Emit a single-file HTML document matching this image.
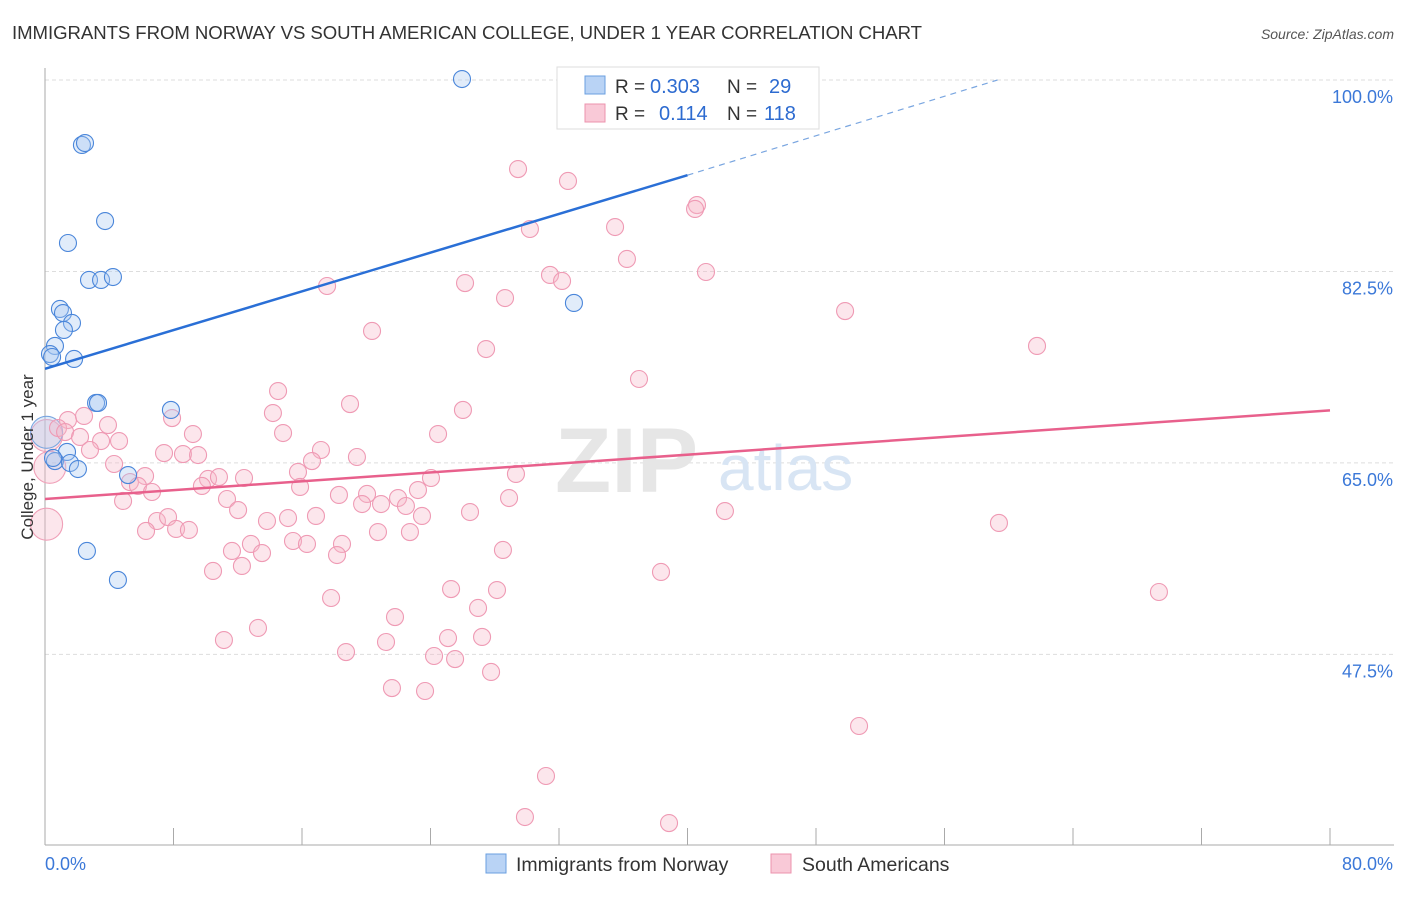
<!DOCTYPE html>
<html><head><meta charset="utf-8"><style>
body{margin:0;background:#fff;font-family:"Liberation Sans",sans-serif}
svg text{font-family:"Liberation Sans",sans-serif}
</style></head><body>
<svg width="1406" height="892" xmlns="http://www.w3.org/2000/svg" id="chart">
<text x="12" y="39" font-size="18.6" fill="#333" textLength="910">IMMIGRANTS FROM NORWAY VS SOUTH AMERICAN COLLEGE, UNDER 1 YEAR CORRELATION CHART</text>
<text x="1394" y="39" font-size="14" fill="#555" text-anchor="end" font-style="italic">Source: ZipAtlas.com</text>
<g id="grid"></g>
<text x="555" y="492" font-size="92" fill="#e6e6e6" font-weight="bold" font-family="Liberation Serif">ZIP</text>
<text x="718" y="490" font-size="64" fill="#d8e5f4">atlas</text>
<g id="marks"></g>
<text x="33" y="457" font-size="17" fill="#333" text-anchor="middle" transform="rotate(-90 33 457)">College, Under 1 year</text>
<g>
<rect x="557" y="67" width="262" height="62" fill="#fff" stroke="#ddd"/>
<rect x="585" y="76" width="20" height="18" fill="#b9d3f5" stroke="#6a9fe0"/>
<rect x="585" y="104" width="20" height="18" fill="#f9c9d7" stroke="#ec93ae"/>
<text x="615" y="93" font-size="19" fill="#333">R =</text>
<text x="650" y="93" font-size="20" fill="#2d6bd0">0.303</text>
<text x="727" y="93" font-size="19" fill="#333">N =</text>
<text x="769" y="93" font-size="20" fill="#2d6bd0">29</text>
<text x="615" y="120" font-size="19" fill="#333">R =</text>
<text x="659" y="120" font-size="20" fill="#2d6bd0">0.114</text>
<text x="727" y="120" font-size="19" fill="#333">N =</text>
<text x="764" y="120" font-size="20" fill="#2d6bd0">118</text>
</g>
<g>
<rect x="486" y="854" width="20" height="19" fill="#b9d3f5" stroke="#6a9fe0"/>
<text x="516" y="871" font-size="19.5" fill="#333">Immigrants from Norway</text>
<rect x="771" y="854" width="20" height="19" fill="#f9c9d7" stroke="#ec93ae"/>
<text x="802" y="871" font-size="19.5" fill="#333">South Americans</text>
</g>
</svg>
<script>
const yTicks=[100,82.5,65,47.5];
const xTickLabels=["0.0%","80.0%"];
const bluePx=[[462,79],[82,145],[85,143],[105,221],[68,243],[89,280],[101,280],[113,277],[574,303],[60,309],[63,313],[72,323],[64,330],[55,346],[50,354],[52,357],[74,359],[96,403],[98,403],[171,410],[67,452],[55,461],[70,463],[78,469],[128,475],[87,551],[118,580],[53,458]];
const pinkPx=[[518,169],[568,181],[697,205],[695,209],[530,229],[615,227],[627,259],[550,275],[562,281],[706,272],[465,283],[327,286],[505,298],[845,311],[372,331],[1037,346],[486,349],[639,379],[278,391],[350,404],[463,410],[273,413],[172,418],[68,420],[84,416],[108,425],[58,428],[65,432],[80,437],[101,441],[119,441],[283,433],[193,434],[438,434],[164,453],[183,454],[198,455],[90,450],[321,450],[357,457],[312,461],[114,464],[298,472],[244,478],[145,476],[208,479],[219,477],[431,478],[516,474],[130,482],[138,486],[202,486],[300,487],[418,490],[152,492],[123,501],[227,499],[339,495],[367,494],[362,504],[381,504],[398,498],[406,506],[509,498],[238,510],[316,516],[422,516],[470,512],[725,511],[157,521],[168,517],[267,521],[288,518],[999,523],[146,531],[176,529],[189,530],[378,532],[410,532],[293,541],[307,544],[251,544],[342,544],[232,551],[262,553],[337,555],[503,550],[242,566],[213,571],[661,572],[451,589],[497,590],[1159,592],[331,598],[478,608],[395,617],[258,628],[224,640],[386,642],[448,638],[482,637],[346,652],[434,656],[455,659],[491,672],[392,688],[425,691],[859,726],[546,776],[525,817],[669,823]];
const blueX=bluePx.map(p=>+((p[0]-45)/1285*80).toFixed(2));
const blueY=bluePx.map(p=>+(100-(p[1]-80)/10.94).toFixed(2));
const pinkX=pinkPx.map(p=>+((p[0]-45)/1285*80).toFixed(2));
const pinkY=pinkPx.map(p=>+(100-(p[1]-80)/10.94).toFixed(2));
const bigPinkX=[0.3,0.1,0.1];const bigPinkY=[64.6,59.4,67.5];
const bigBlueX=[0.1];const bigBlueY=[67.8];
const blueTrend=[[0,73.6],[40,91.3]];const blueTrendDash=[[40,91.3],[59.3,100]];
const pinkTrend=[[0,61.7],[80,69.8]];
const sx=v=>45+v/80*1285, sy=v=>80+(100-v)*10.94;
const NS="http://www.w3.org/2000/svg";
const grid=document.getElementById('grid'),marks=document.getElementById('marks');
function mk(tag,at,parent){const e=document.createElementNS(NS,tag);for(const k in at)e.setAttribute(k,at[k]);parent.appendChild(e);return e;}
yTicks.forEach(t=>{const l=mk('line',{x1:45,x2:1394,y1:sy(t),y2:sy(t),stroke:'#ddd','stroke-dasharray':'4,3'},grid);


const tx=mk('text',{x:1393,y:sy(t)+23,'font-size':18,fill:'#3b78d8','text-anchor':'end'},grid);tx.textContent=t.toFixed(1)+'%';

});
const ax=mk('line',{x1:45,x2:45,y1:68,y2:845,stroke:'#aaa'},grid);


const xa=mk('line',{x1:45,x2:1394,y1:845,y2:845,stroke:'#aaa'},grid);


for(let i=0;i<=10;i++){const t=mk('line',{x1:sx(i*8),x2:sx(i*8),y1:828,y2:845,stroke:'#aaa'},grid);

}
[[0,"start",45],[80,"end",1393]].forEach((d,i)=>{const t=mk('text',{x:d[2],y:870,'font-size':18,fill:'#3b78d8','text-anchor':d[1]},grid);t.textContent=xTickLabels[i];

});
function dots(xs,ys,r,fill,stroke,name){xs.forEach((x,i)=>{const c=mk('circle',{cx:sx(x),cy:sy(ys[i]),r:r,fill:fill,'fill-opacity':0.35,stroke:stroke,'stroke-width':1.1},marks);

});}
dots(bigPinkX,bigPinkY,16,'#f6b6c9','#f0a0b8','south-american-point');
dots(bigBlueX,bigBlueY,16,'#a8c8f0','#7aa6e0','norway-point');
dots(pinkX,pinkY,8.5,'#f6b6c9','#ef9ab4','south-american-point');
dots(blueX,blueY,8.5,'#a8c8f0','#4a86da','norway-point');
const bt=mk('line',{x1:sx(blueTrend[0][0]),y1:sy(blueTrend[0][1]),x2:sx(blueTrend[1][0]),y2:sy(blueTrend[1][1]),stroke:'#2a6fd6','stroke-width':2.5},marks);


const bd=mk('line',{x1:sx(blueTrendDash[0][0]),y1:sy(blueTrendDash[0][1]),x2:sx(blueTrendDash[1][0]),y2:sy(blueTrendDash[1][1]),stroke:'#7aa6e0','stroke-width':1.2,'stroke-dasharray':'6,5'},marks);


const pt=mk('line',{x1:sx(pinkTrend[0][0]),y1:sy(pinkTrend[0][1]),x2:sx(pinkTrend[1][0]),y2:sy(pinkTrend[1][1]),stroke:'#e8608c','stroke-width':2.5},marks);


</script>
</body></html>
